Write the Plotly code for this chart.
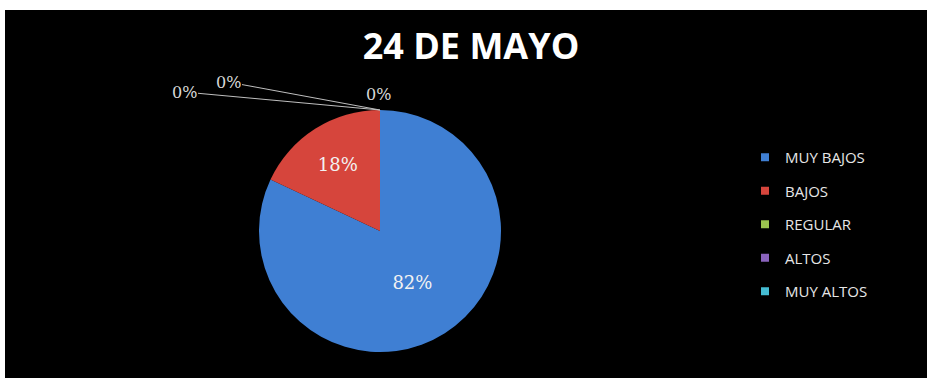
import plotly.graph_objects as go

# ---- data ----
categories = ["MUY BAJOS", "BAJOS", "REGULAR", "ALTOS", "MUY ALTOS"]
values = [82, 18, 0, 0, 0]
colors = ["#3F7FD3", "#D6453C", "#9BC34F", "#8A63BD", "#45BCD3"]
title_text = "24 DE MAYO"

W, H = 927, 378
cx, cy, r = 380, 231, 121  # pie centre / radius in pixels (layout)

total = sum(values)
pct_labels = [f"{round(v / total * 100)}%" for v in values]

fig = go.Figure()

fig.add_trace(go.Pie(
    labels=categories,
    values=values,
    sort=False,
    direction="clockwise",
    rotation=0,
    marker=dict(colors=colors, line=dict(width=0)),
    texttemplate=[("%{percent:.0%}" if v > 0 else "") for v in values],
    textposition="inside",
    insidetextorientation="horizontal",
    textfont=dict(family="DejaVu Serif", size=18, color="#F2F2F2"),
    domain=dict(x=[(cx - r) / W, (cx + r) / W], y=[(H - cy - r) / H, (H - cy + r) / H]),
    showlegend=False,
    hoverinfo="label+percent",
))

# legend entries as square markers
for cat, col in zip(categories, colors):
    fig.add_trace(go.Scatter(
        x=[None], y=[None], mode="markers", name=cat,
        marker=dict(symbol="square", size=8, color=col),
        legendgroup=cat, showlegend=True,
    ))

# zero-slice labels with leader lines to the top of the pie
zero_idx = [i for i, v in enumerate(values) if v == 0]
top_y = (H - cy + r) / H
label_font = dict(family="DejaVu Serif", size=16, color="#D9D9D9")
offsets = [(-196, -18), (-152, -28)]
for k, i in enumerate(zero_idx):
    if k < len(offsets):
        ax, ay = offsets[k]
        fig.add_annotation(
            x=cx / W, y=top_y, xref="paper", yref="paper",
            text=pct_labels[i], showarrow=True,
            ax=ax, ay=ay, arrowhead=0, arrowwidth=1, arrowcolor="#BFBFBF",
            font=label_font, standoff=0, startstandoff=0,
        )
    else:
        fig.add_annotation(
            x=(cx - 2) / W, y=top_y + 16 / H, xref="paper", yref="paper",
            text=pct_labels[i], showarrow=False, font=label_font,
            xanchor="center", yanchor="middle",
        )

# black chart area with white strips at top/left
fig.add_shape(type="rect", xref="paper", yref="paper",
              x0=5 / W, x1=1, y0=0, y1=1 - 10 / H,
              fillcolor="black", line=dict(width=0), layer="below")

fig.update_layout(
    width=W, height=H,
    margin=dict(l=0, r=0, t=0, b=0),
    paper_bgcolor="white",
    plot_bgcolor="rgba(0,0,0,0)",
    title=dict(text=f"<b>{title_text}</b>", x=471 / W, xanchor="center",
               y=1 - 46 / H, yanchor="middle", yref="container",
               font=dict(family="Open Sans", size=36, color="white")),
    xaxis=dict(visible=False),
    yaxis=dict(visible=False),
    showlegend=True,
    legend=dict(x=745 / W, y=1 - 141 / H, xanchor="left", yanchor="top",
                font=dict(family="Open Sans", size=15, color="#E6E6E6"),
                bgcolor="rgba(0,0,0,0)", tracegroupgap=11,
                itemclick=False, itemdoubleclick=False),
)

fig.write_html("out.html")
